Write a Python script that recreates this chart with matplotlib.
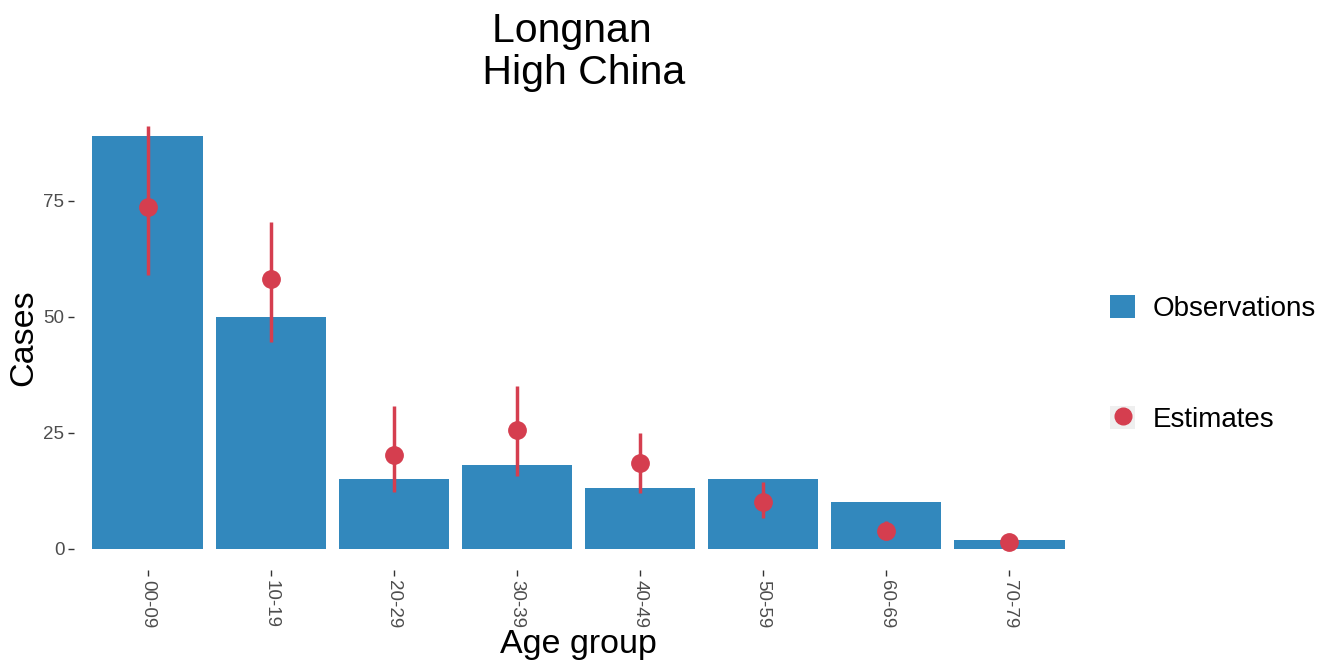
import matplotlib.pyplot as plt
from matplotlib.patches import Patch
from matplotlib.lines import Line2D
from matplotlib.legend_handler import HandlerTuple

plt.rcParams['font.family'] = ['Liberation Sans', 'DejaVu Sans']

# data
age_groups = ["00-09", "10-19", "20-29", "30-39", "40-49", "50-59", "60-69", "70-79"]
observed = [89, 50, 15, 18, 13, 15, 10, 2]
estimate = [73.6, 58.2, 20.2, 25.6, 18.4, 10.0, 3.9, 1.4]
est_low = [58.9, 44.6, 12.2, 15.7, 12.1, 6.7, 2.6, 0.8]
est_high = [91.1, 70.3, 30.7, 35.1, 25.0, 14.5, 5.9, 2.2]

blue = "#3288BD"
red = "#D53E4F"

fig = plt.figure(figsize=(13.28, 6.65), dpi=100)
ax = fig.add_axes([74 / 1328, 1 - 570 / 665, 1009 / 1328, 465.4 / 665])

x = list(range(1, len(age_groups) + 1))
ax.bar(x, observed, width=0.9, color=blue, zorder=1)
ax.vlines(x, est_low, est_high, color=red, linewidth=2.5, zorder=2)
ax.plot(x, estimate, 'o', color=red, markersize=12.5, zorder=3)

# ggplot-like expansion
ymax = max(max(est_high), max(observed))
ax.set_ylim(-0.05 * ymax, 1.05 * ymax)
ax.set_xlim(0.4, len(age_groups) + 0.6)

ax.set_xticks(x)
ax.set_xticklabels(age_groups, rotation=-90)
ax.set_yticks([0, 25, 50, 75])
ax.tick_params(axis='both', length=4, width=1, color='#333333',
               labelcolor='#4D4D4D', labelsize=13.5, pad=3)
for s in ax.spines.values():
    s.set_visible(False)

ax.set_xlabel("Age group", fontsize=24.5, va='center')
ax.xaxis.set_label_coords(0.5, -0.161)
ax.set_ylabel("Cases", fontsize=24.5, va='center')
ax.yaxis.set_label_coords(-0.0496, 0.5)

fig.text(578 / 1328, 1 - 12 / 665, "Longnan \n High China", fontsize=29.5,
         ha='center', va='top', multialignment='center', linespacing=1.12)

handles = [Patch(facecolor=blue, edgecolor='none'),
           (Patch(facecolor='#EFEFEF', edgecolor='none'),
            Line2D([], [], marker='o', color=red, linestyle='None', markersize=12))]
fig.legend(handles, ["Observations", "Estimates"], loc='center left',
           bbox_to_anchor=(1085 / 1328, 1 - 364 / 665), frameon=False,
           fontsize=20, handlelength=0.9, handleheight=0.9, labelspacing=3.0,
           handletextpad=0.65, handler_map={tuple: HandlerTuple(ndivide=1)})

fig.savefig("out.png", dpi=100, facecolor='white')
